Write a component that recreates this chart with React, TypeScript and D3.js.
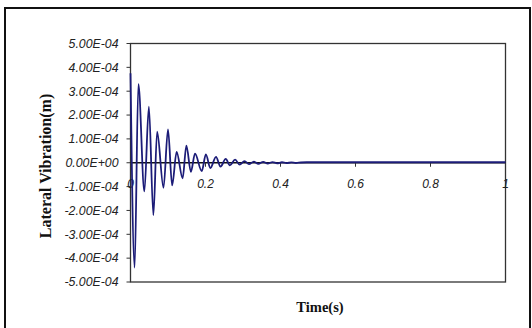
import React, { useEffect, useRef } from "react";
import * as d3 from "d3";

const times = [
  0, 0.011, 0.021, 0.037, 0.049, 0.061, 0.071, 0.088, 0.1, 0.111, 0.123, 0.139,
  0.149, 0.161, 0.172, 0.19, 0.201, 0.213, 0.228, 0.24, 0.254, 0.265, 0.279,
  0.291, 0.304, 0.316, 0.329, 0.341, 0.354, 0.366, 0.379, 0.391, 0.404, 0.416,
  0.429, 0.441, 0.454, 0.47, 0.6, 0.8, 1,
];
const vibration = [
  3.75, -4.4, 3.3, -1.2, 2.35, -2.2, 1.3, -1.05, 1.4, -0.95, 0.45, -0.65, 0.72,
  -0.38, 0.38, -0.35, 0.35, -0.22, 0.25, -0.16, 0.16, -0.11, 0.13, -0.08, 0.07,
  -0.06, 0.05, -0.05, 0.04, -0.035, 0.03, -0.025, 0.02, -0.015, 0.015, -0.01,
  0.01, 0.02, 0.02, 0.02, 0.02,
];
const yTicks = [-5, -4, -3, -2, -1, 0, 1, 2, 3, 4, 5];
const xTicks = [0, 0.2, 0.4, 0.6, 0.8, 1];

const App = () => {
  const svgRef = useRef<SVGSVGElement>(null);

  useEffect(() => {
    const width = 532;
    const height = 328;
    const plot = { left: 130.5, right: 505.5, top: 43.5, bottom: 282 };
    const svg = d3.select(svgRef.current);
    svg.selectAll("*").remove();
    svg.attr("width", width).attr("height", height);

    svg.append("rect").attr("width", width).attr("height", height).attr("fill", "#fff");

    // outer frame
    svg
      .append("rect")
      .attr("x", 5)
      .attr("y", 8)
      .attr("width", 525)
      .attr("height", 340)
      .attr("fill", "none")
      .attr("stroke", "#111")
      .attr("stroke-width", 2);

    const x = d3.scaleLinear().domain([0, 1]).range([plot.left, plot.right]);
    const y = d3.scaleLinear().domain([-5, 5]).range([plot.bottom, plot.top]);

    // plot area border
    svg
      .append("rect")
      .attr("x", plot.left)
      .attr("y", plot.top)
      .attr("width", plot.right - plot.left)
      .attr("height", plot.bottom - plot.top)
      .attr("fill", "none")
      .attr("stroke", "#333")
      .attr("stroke-width", 1.3);

    // y axis ticks + labels
    const fmt = (v: number) => {
      if (v === 0) return "0.00E+00";
      return (v < 0 ? "-" : "") + Math.abs(v).toFixed(2) + "E-04";
    };
    svg
      .selectAll(".ytick")
      .data(yTicks)
      .enter()
      .append("line")
      .attr("x1", plot.left - 4)
      .attr("x2", plot.left)
      .attr("y1", (d) => y(d))
      .attr("y2", (d) => y(d))
      .attr("stroke", "#333")
      .attr("stroke-width", 1);
    svg
      .selectAll(".ylab")
      .data(yTicks)
      .enter()
      .append("text")
      .attr("x", plot.left - 12)
      .attr("y", (d) => y(d) + 4.3)
      .attr("text-anchor", "end")
      .attr("font-family", "Liberation Sans, Arial, sans-serif")
      .attr("font-style", "italic")
      .attr("font-size", 12.3)
      .attr("fill", "#222")
      .text((d) => fmt(d));

    // zero line with ticks
    svg
      .append("line")
      .attr("x1", plot.left)
      .attr("x2", plot.right)
      .attr("y1", y(0))
      .attr("y2", y(0))
      .attr("stroke", "#111")
      .attr("stroke-width", 1.3);
    svg
      .selectAll(".xtick")
      .data(xTicks)
      .enter()
      .append("line")
      .attr("x1", (d) => x(d))
      .attr("x2", (d) => x(d))
      .attr("y1", y(0))
      .attr("y2", y(0) + 4)
      .attr("stroke", "#333")
      .attr("stroke-width", 1);
    svg
      .selectAll(".xlab")
      .data(xTicks)
      .enter()
      .append("text")
      .attr("x", (d) => x(d))
      .attr("y", y(0) + 25)
      .attr("text-anchor", "middle")
      .attr("font-family", "Liberation Sans, Arial, sans-serif")
      .attr("font-style", "italic")
      .attr("font-size", 12)
      .attr("fill", "#222")
      .text((d) => String(d));

    // vibration series
    const line = d3
      .line<number>()
      .x((d, i) => x(times[i]))
      .y((d) => y(d))
      .curve(d3.curveMonotoneX);
    svg
      .append("path")
      .datum(vibration)
      .attr("d", line)
      .attr("fill", "none")
      .attr("stroke", "#1c1c78")
      .attr("stroke-width", 1.8);

    // axis titles
    svg
      .append("text")
      .attr("x", 320)
      .attr("y", 312)
      .attr("text-anchor", "middle")
      .attr("font-family", "Liberation Serif, Times New Roman, serif")
      .attr("font-weight", "bold")
      .attr("font-size", 14.5)
      .attr("fill", "#111")
      .text("Time(s)");
    svg
      .append("text")
      .attr("transform", `translate(51,166) rotate(-90)`)
      .attr("text-anchor", "middle")
      .attr("font-family", "Liberation Serif, Times New Roman, serif")
      .attr("font-weight", "bold")
      .attr("font-size", 16)
      .attr("fill", "#111")
      .text("Lateral Vibration(m)");
  }, []);

  return (
    <div style={{ position: "absolute", left: 0, top: 0 }}>
      <svg ref={svgRef}></svg>
    </div>
  );
};

export default App;
